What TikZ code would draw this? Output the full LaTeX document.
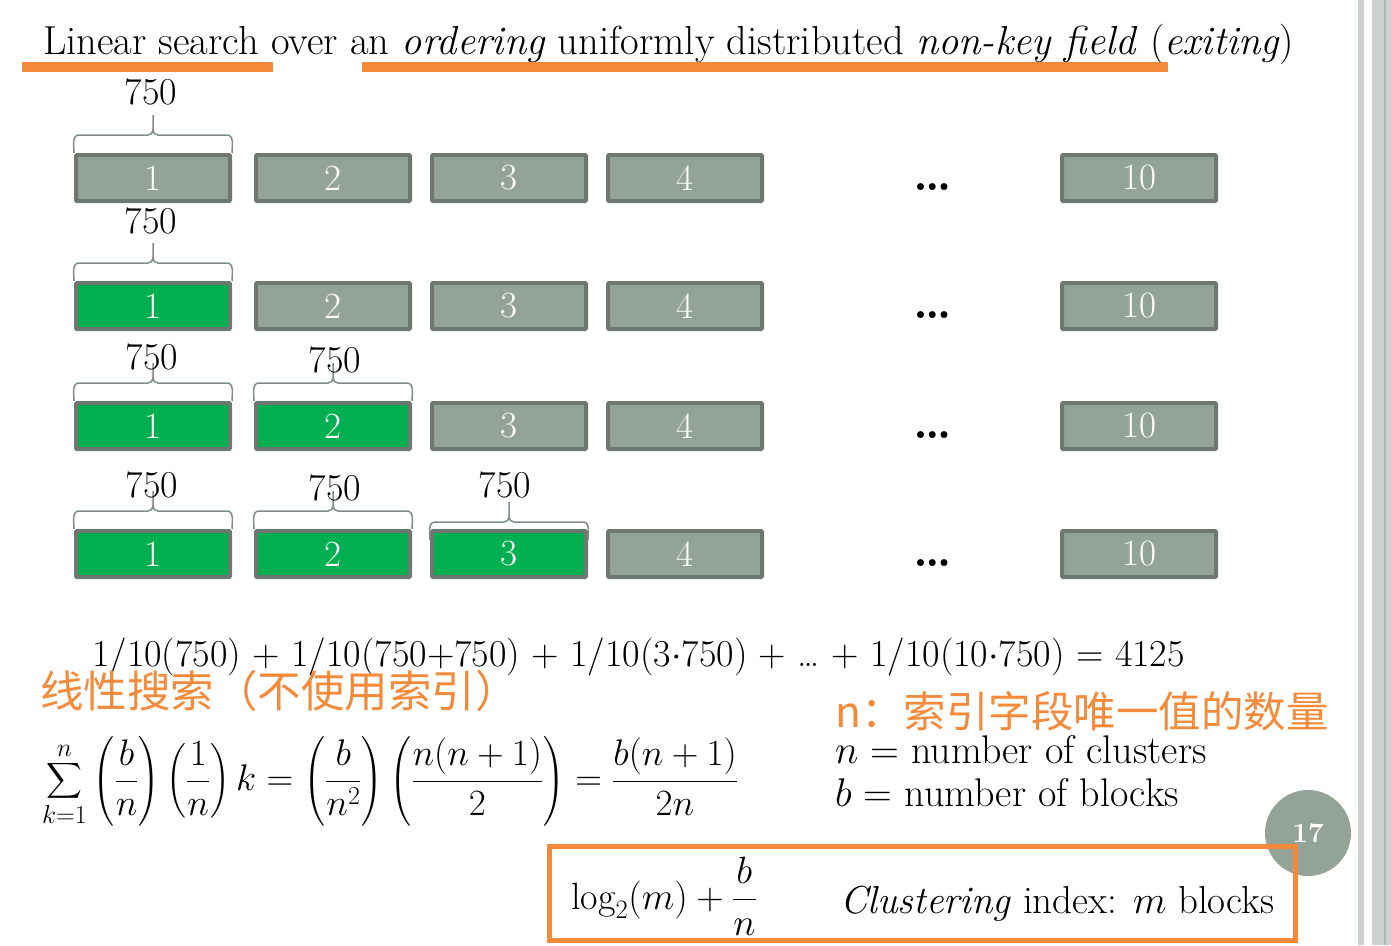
\RequirePackage{fix-cm}
\documentclass[tikz,border=0pt]{standalone}
\usepackage{amsmath}
\usepackage{fontspec}
\newfontfamily\cjk{Noto Sans CJK SC}
\usetikzlibrary{positioning,calc}

\definecolor{blockgray}{HTML}{94A398}
\definecolor{blockline}{HTML}{6E7870}
\definecolor{blockgreen}{HTML}{00B050}
\definecolor{accent}{HTML}{F58A3A}
\definecolor{bracegray}{HTML}{7E8E84}
\definecolor{stripe}{HTML}{CDD3CF}
\definecolor{stripedark}{HTML}{AEB8B1}

\tikzset{
    blk/.style={draw=blockline, line width=4pt, fill=blockgray, rounded corners=1pt,
        minimum width=154pt, minimum height=46pt, inner sep=0pt, text=white,
        font=\fontsize{37}{40}\selectfont},
    brc/.style={draw=bracegray, line width=1.5pt},
    size/.style={inner sep=0pt, font=\fontsize{38}{40}\selectfont},
    uline/.style={draw=accent, line width=10pt},
    big/.style={inner sep=0pt, font=\fontsize{40}{44}\selectfont},
    zh/.style={inner sep=0pt, text=accent, font=\cjk\fontsize{43.5}{46}\selectfont},
    formula/.style={inner sep=0pt, font=\fontsize{37}{40}\selectfont},
}

% brace above a block: #1 = block node, #2 = how far the brace sits lower
\newcommand{\topbrace}[2]{%
    \draw[brc] ($(#1.north west)+(0,-#2)$) to[out=90,in=180] ++(5,18)
        -- ($(#1.north)+(-5,18-#2)$) to[out=0,in=-90] ++(5,5) -- ++(0,15)
        ++(0,-15) to[out=-90,in=180] ++(5,-5)
        -- ($(#1.north east)+(-5,18-#2)$) to[out=0,in=90] ++(5,-18);
}

\begin{document}
\begin{tikzpicture}[x=1pt,y=1pt]
    \useasboundingbox (0,0) rectangle (1391,-945);

    % slide edge
    \fill[stripe] (1358,0) rectangle (1364,-945);
    \fill[stripe] (1372,0) rectangle (1391,-945);
    \fill[stripedark] (1384,0) rectangle (1386,-945);

    % Title
    \node[big, font=\fontsize{40.5}{44}\selectfont, anchor=base west] (title) at (43,-54)
        {Linear search over an \textit{ordering} uniformly distributed \textit{non-key field} (\textit{exiting})};
    \draw[uline] (22,-67) -- (273,-67);
    \draw[uline] (362,-67) -- (1168,-67);

    % Rows of blocks
    \foreach \r/\yy/\ng in {1/178/0, 2/306/1, 3/426/2, 4/554/3} {
        \foreach \i/\xx in {1/153, 2/333, 3/509, 4/685, 10/1139} {
            \ifnum\i>\ng \def\fc{blockgray}\else \def\fc{blockgreen}\fi
            \node[blk, fill=\fc] (b\r-\i) at (\xx,-\yy) {\i};
        }
        \node[inner sep=0pt, font=\bfseries\fontsize{48}{50}\selectfont, anchor=base] (dots\r) at (933,-\yy-12) {\dots};
    }

    % Braces
    \topbrace{b1-1}{0}
    \topbrace{b2-1}{0}
    \topbrace{b3-1}{0}
    \topbrace{b3-2}{0}
    \topbrace{b4-1}{0}
    \topbrace{b4-2}{0}
    \topbrace{b4-3}{11}
    \node[size] (s1-1) at ($(b1-1.north)+(-2,61)$) {750};
    \node[size] (s2-1) at ($(b2-1.north)+(-2,60)$) {750};
    \node[size] (s3-1) at ($(b3-1.north)+(-1,44)$) {750};
    \node[size] (s3-2) at ($(b3-2.north)+(2,41)$) {750};
    \node[size] (s4-1) at ($(b4-1.north)+(-1,44)$) {750};
    \node[size] (s4-2) at ($(b4-2.north)+(2,41)$) {750};
    \node[size] (s4-3) at ($(b4-3.north)+(-4,44)$) {750};

    % Cost of the search
    \node[inner sep=0pt, font=\fontsize{38}{40}\selectfont, anchor=base west] (cost) at (92,-666)
        {1/10(750) + 1/10(750+750) + 1/10(3$\cdot$750) + \dots{} + 1/10(10$\cdot$750) = 4125};
    \node[zh, anchor=base west] (zhlin) at (40,-707) {线性搜索（不使用索引）};
    \node[formula] (sum) at (390,-781)
        {$\displaystyle \sum_{k=1}^{n}\left(\frac{b}{n}\right)\left(\frac{1}{n}\right)k
          = \left(\frac{b}{n^2}\right)\left(\frac{n(n+1)}{2}\right) = \frac{b(n+1)}{2n}$};

    % Legend
    \node[zh, font=\cjk\fontsize{42.5}{46}\selectfont, anchor=base west] (zhn) at (835,-727) {n：索引字段唯一值的数量};
    \node[big, anchor=base west] (defn) at (835,-763) {$n$ = number of clusters};
    \node[big, anchor=base west] (defb) at (835,-806) {$b$ = number of blocks};

    % Page number
    \node[circle, fill=blockgray, minimum size=86pt, inner sep=0pt, text=white,
        font=\bfseries\fontsize{28}{30}\selectfont] (page) at (1308,-833) {17};

    % Clustering index
    \draw[accent, line width=5pt] (549,-846) rectangle (1295,-940);
    \node[formula, font=\fontsize{38}{40}\selectfont] (logf) at (664,-896)
        {$\log_2(m) + \dfrac{b}{n}$};
    \node[big, font=\fontsize{39}{42}\selectfont, anchor=base west] (clus) at (840,-913)
        {\textit{Clustering} index: $m$ blocks};
\end{tikzpicture}
\end{document}
